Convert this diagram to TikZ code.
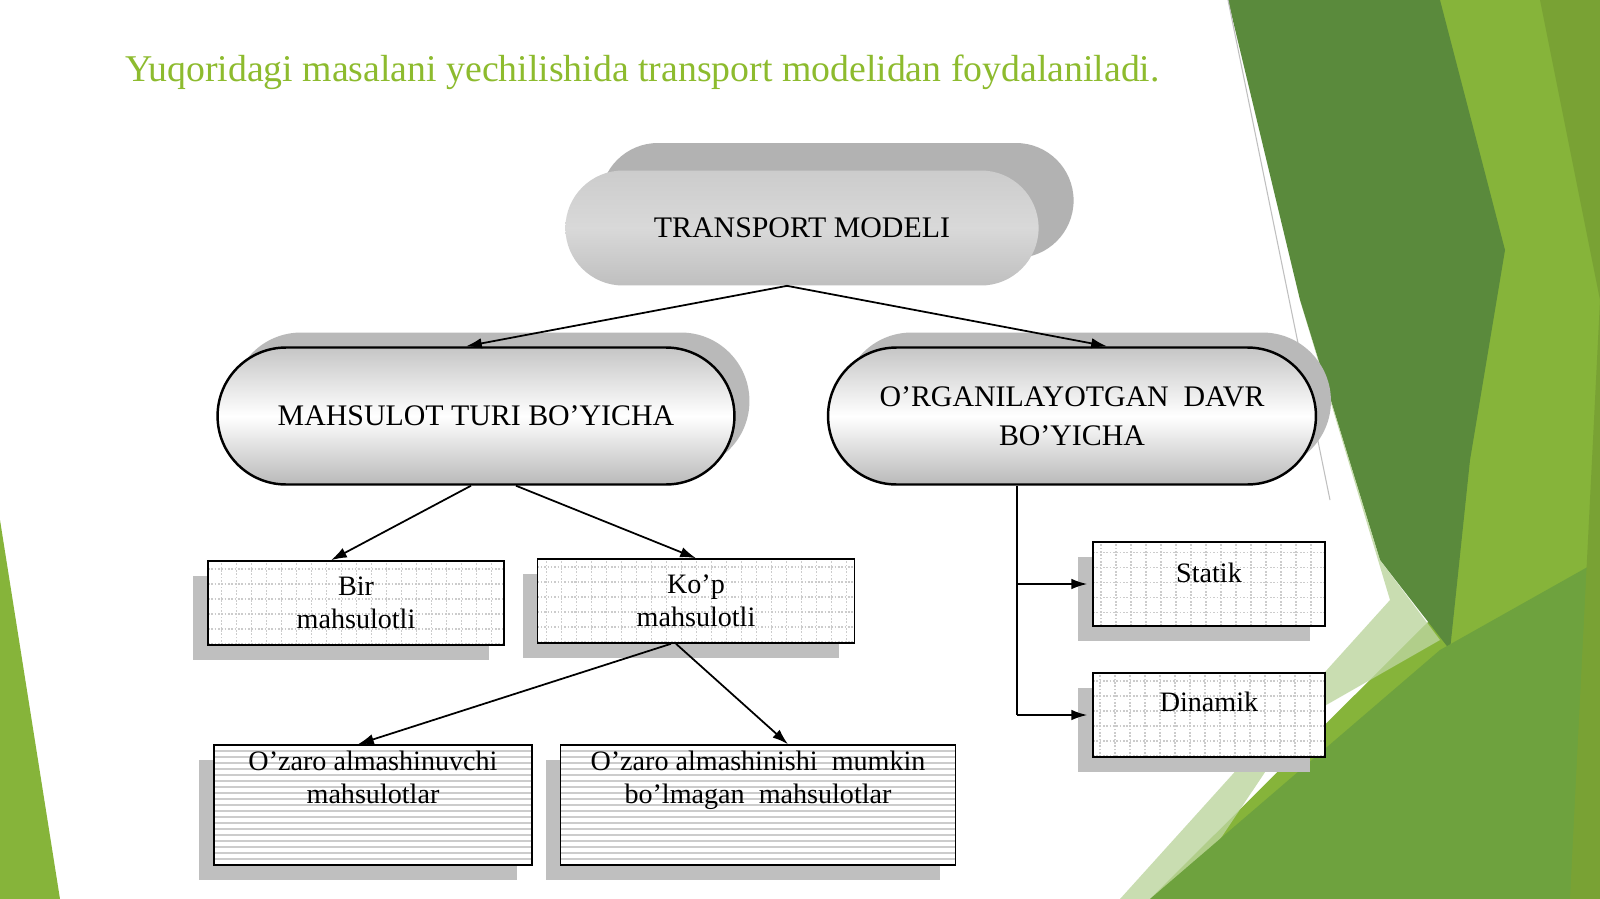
\documentclass[tikz,border=0pt]{standalone}
\usepackage{fontspec}
\setmainfont{Liberation Serif}
\usetikzlibrary{shapes.misc,shadows,arrows.meta}
\definecolor{tgreen}{HTML}{8DBB2E}
\definecolor{dgreen}{HTML}{5A8A3C}
\definecolor{lgreen}{HTML}{86B43A}
\definecolor{mgreen}{HTML}{6EA23E}
\definecolor{pgreen}{HTML}{BCD59E}
\begin{document}
\begin{tikzpicture}[x={(0.02cm,0)},y={(0,-0.02cm)},
  pill/.style={rounded rectangle, draw=black, line width=1.4pt, top color=gray!45, bottom color=gray!55, middle color=white,
     drop shadow={shadow xshift=0.3cm, shadow yshift=0.3cm, fill=gray!55, opacity=1},
     font=\fontsize{17}{22}\selectfont, align=center, inner sep=0pt},
  gbox/.style={draw=black, line width=0.9pt, fill=white, align=center, inner sep=0pt,
     font=\fontsize{16}{19}\selectfont,
     drop shadow={shadow xshift=-0.3cm, shadow yshift=-0.3cm, fill=gray!50, opacity=1},
     path picture={\draw[gray!40, densely dotted, step=0.3cm] (path picture bounding box.south west) grid (path picture bounding box.north east);}},
  lbox/.style={draw=black, line width=0.9pt, fill=white, align=center, inner sep=0pt,
     font=\fontsize{16}{19}\selectfont,
     drop shadow={shadow xshift=-0.3cm, shadow yshift=-0.3cm, fill=gray!50, opacity=1},
     path picture={\foreach \k in {1,...,20}{\draw[gray!40] ([yshift=\k*0.12cm]path picture bounding box.south west) -- ([yshift=\k*0.12cm]path picture bounding box.south east);}}},
  arr/.style={-{Latex[length=9pt,width=6pt]}, line width=1pt}]
\useasboundingbox (0,0) rectangle (1600,899);
\fill[white] (0,0) rectangle (1600,899);
% background green shapes
\fill[lgreen] (1410,0) -- (1600,0) -- (1600,899) -- (1150,899) -- (1430,620) -- cycle;
\fill[dgreen] (1228,0) -- (1440,0) -- (1505,250) -- (1470,460) -- (1450,650) -- (1380,560) -- (1300,300) -- cycle;
\fill[pgreen, opacity=0.8] (1300,300) -- (1380,560) -- (1440,640) -- (1300,720) -- (1180,899) -- (1120,899) -- (1390,600) -- cycle;
\fill[mgreen] (1150,899) -- (1440,650) -- (1600,560) -- (1600,899) -- cycle;
\fill[lgreen!90!black] (1540,0) -- (1600,0) -- (1600,899) -- (1570,899) -- (1600,300) -- cycle;
\fill[lgreen] (0,520) -- (60,899) -- (0,899) -- cycle;
\draw[gray!50, line width=0.6pt] (1228,0) -- (1330,500);
% title
\node[anchor=west, text=tgreen, font=\fontsize{21.5}{25}\selectfont, inner sep=0pt] (title) at (125,72) {Yuqoridagi masalani yechilishida transport modelidan foydalaniladi.};
% top node
\node[rounded rectangle, minimum width=9.7cm, minimum height=2.3cm, top color=gray!40, bottom color=gray!50, middle color=gray!30, draw=none,
  drop shadow={shadow xshift=0.7cm, shadow yshift=0.55cm, fill=gray!60, opacity=1},
  font=\fontsize{17}{22}\selectfont] (top) at (802,228) {TRANSPORT MODELI};
\node[pill, minimum width=10.34cm, minimum height=2.74cm] (mah) at (476,416) {MAHSULOT TURI BO'YICHA};
\node[pill, minimum width=9.76cm, minimum height=2.74cm] (org) at (1072,416) {O'RGANILAYOTGAN\ \ DAVR\\BO'YICHA};
\node[gbox, minimum width=5.92cm, minimum height=1.68cm] (bir) at (356,603) {Bir\\mahsulotli};
\node[gbox, minimum width=6.34cm, minimum height=1.68cm] (kop) at (696,601) {Ko'p\\mahsulotli};
\node[lbox, minimum width=6.36cm, minimum height=2.4cm, text depth=1.1cm] (oz1) at (373,805) {O'zaro almashinuvchi\\mahsulotlar};
\node[lbox, minimum width=7.9cm, minimum height=2.4cm, text depth=1.1cm] (oz2) at (758,805) {O'zaro almashinishi\ \ mumkin\\bo'lmagan\ \ mahsulotlar};
\node[gbox, minimum width=4.64cm, minimum height=1.68cm, text depth=0.45cm] (stat) at (1209,584) {Statik};
\node[gbox, minimum width=4.64cm, minimum height=1.68cm, text depth=0.55cm] (din) at (1209,715) {Dinamik};
% connectors
\draw[arr] ([xshift=-0.3cm]top.south) -- ([xshift=-0.2cm]mah.north);
\draw[arr] ([xshift=-0.3cm]top.south) -- ([xshift=0.7cm]org.north);
\draw[arr] ([xshift=-0.1cm]mah.south) -- ([xshift=-0.5cm]bir.north);
\draw[arr] ([xshift=0.8cm]mah.south) -- (kop.north);
\draw[arr] ([xshift=-0.5cm]kop.south) -- ([xshift=-0.3cm]oz1.north);
\draw[arr] ([xshift=-0.4cm]kop.south) -- ([xshift=0.6cm]oz2.north);
\coordinate (trunk) at ([xshift=-1.1cm]org.south);
\coordinate (br) at (din.west -| trunk);
\draw[line width=1pt] (trunk) -- (br);
\draw[arr] (stat.west -| trunk) -- ([xshift=-0.1cm]stat.west);
\draw[arr] (br) -- ([xshift=-0.1cm]din.west);
\end{tikzpicture}
\end{document}
